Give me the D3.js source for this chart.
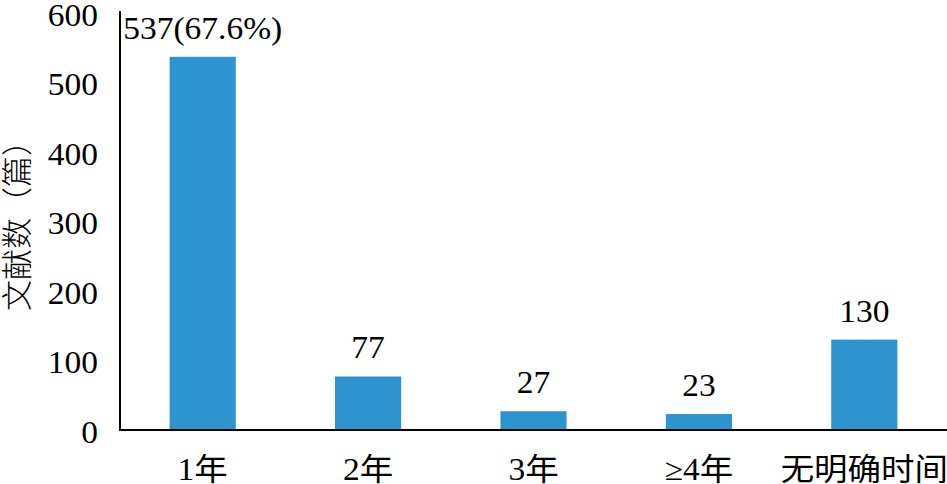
<!DOCTYPE html>
<html><head><meta charset="utf-8">
<script src="https://cdn.jsdelivr.net/npm/d3@7"></script>
<style>
body{margin:0;background:#fff;}
text{font-family:"Liberation Serif","Noto Sans CJK SC",serif;fill:#000;}
</style></head>
<body><svg id="c" width="947" height="484"></svg>
<script>
const categories = ["1年","2年","3年","≥4年","无明确时间"];
const values = [537,77,27,23,130];
const valueLabels = ["537(67.6%)","77","27","23","130"];
const yTicks = [0,100,200,300,400,500,600];
const yTitle = "文献数（篇）";

const svg = d3.select("#c");
const m = {left:120, right:0, top:13, bottom:54};
const W = 947, H = 484;
const SX = 1.08;
const x = d3.scaleBand().domain(categories).range([m.left, W]).paddingInner(0.6).paddingOuter(0.3);
const y = d3.scaleLinear().domain([0,600]).range([H-m.bottom, m.top]);

svg.selectAll("rect.bar").data(values).join("rect").attr("class","bar")
  .attr("x",(d,i)=>x(categories[i])).attr("width",x.bandwidth())
  .attr("y",d=>y(d)).attr("height",d=>y(0)-y(d)).attr("fill","#2e94cf");

// y axis labels
const ya = svg.append("g").attr("transform",`translate(${m.left},0)`)
  .call(d3.axisLeft(y).tickValues(yTicks).tickSize(0).tickPadding(22));
ya.select(".domain").remove();
ya.selectAll("text").attr("font-size",31).attr("font-family",null)
  .attr("dy",null).attr("y",12).attr("x",-22/SX).attr("transform",`scale(${SX},1)`);

// axis lines
svg.append("line").attr("x1",m.left).attr("x2",m.left).attr("y1",11).attr("y2",y(0)+1)
  .attr("stroke","#000").attr("stroke-width",2);
svg.append("line").attr("x1",m.left-1).attr("x2",W).attr("y1",y(0)).attr("y2",y(0))
  .attr("stroke","#000").attr("stroke-width",2);

// x category labels
svg.selectAll("text.cat").data(categories).join("text").attr("class","cat")
  .attr("transform",d=>`translate(${x(d)+x.bandwidth()/2},480) scale(${SX},1)`)
  .attr("text-anchor","middle").attr("font-size",31).text(d=>d);

// value labels
svg.selectAll("text.val").data(values).join("text").attr("class","val")
  .attr("transform",(d,i)=>`translate(${x(categories[i])+x.bandwidth()/2},${y(d)-18}) scale(${SX},1)`)
  .attr("text-anchor","middle").attr("font-size",31).text((d,i)=>valueLabels[i]);

// y title
svg.append("text").attr("transform","translate(28,218) rotate(-90)")
  .attr("text-anchor","middle").attr("font-size",31)
  .style("font-family","'Noto Sans CJK SC',serif").style("font-weight",300).text(yTitle);
</script></body></html>
